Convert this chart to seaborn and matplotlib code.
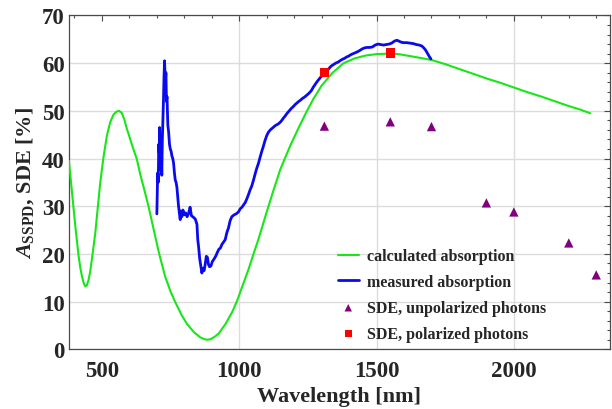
import numpy as np
import pandas as pd
import matplotlib
matplotlib.use("Agg")
import matplotlib.pyplot as plt
from matplotlib.ticker import MultipleLocator
import seaborn as sns

# Calculated absorption of the SSPD structure (wavelength in nm, absorption in %)
calc_wl = [380, 385, 390, 397, 405, 415, 421, 427, 433, 439, 445, 451, 457, 466, 476,
           485, 494, 505, 518, 530, 542, 552, 562, 572, 581, 591, 600, 610, 618, 627,
           640, 655, 670, 690, 709, 730, 750, 767, 790, 810, 835, 858, 870, 882, 895,
           910, 925, 950, 975, 991, 1010, 1034, 1052, 1070, 1100, 1125, 1150, 1185,
           1215, 1245, 1270, 1300, 1340, 1380, 1420, 1460, 1500, 1543, 1580, 1620, 1660,
           1698, 1750, 1800, 1850, 1900, 1950, 2000, 2050, 2100, 2150, 2200, 2240, 2278]
calc_abs = [39.5, 36.5, 33.5, 29.4, 24.8, 19.6, 17.2, 15.4, 14.0, 13.2, 13.4, 14.5, 16.2,
            20.0, 24.5, 29.8, 35.0, 40.0, 44.8, 47.6, 49.2, 49.8, 50.0, 49.6, 48.3, 46.2,
            44.6, 42.8, 41.4, 39.9, 36.6, 33.3, 29.9, 24.7, 19.9, 15.3, 12.1, 9.9, 7.2,
            5.3, 3.6, 2.5, 2.2, 2.0, 2.1, 2.6, 3.3, 5.3, 7.9, 10.0, 13.0, 16.8, 20.0,
            23.1, 28.8, 33.4, 37.8, 42.6, 46.3, 49.8, 52.5, 55.3, 58.0, 60.0, 61.0, 61.6,
            61.9, 62.0, 61.9, 61.5, 61.1, 60.7, 59.8, 58.8, 57.8, 56.8, 55.9, 54.9, 53.9,
            53.0, 52.0, 51.0, 50.3, 49.5]

# Measured absorption spectrum
meas_wl = [700, 701, 703, 705, 707, 709, 710, 712, 713, 715, 716, 718, 720, 722, 724,
           726, 728, 731, 733, 735, 737, 740, 743, 746, 749, 752, 755, 758, 761, 764,
           767, 770, 773, 776, 779, 782, 785, 787, 791, 795, 800, 805, 810, 815, 821,
           826, 833, 840, 846, 849, 852, 856, 860, 864, 868, 872, 876, 880, 884, 888,
           892, 897, 902, 909, 915, 920, 926, 931, 937, 943, 949, 955, 961, 967, 973,
           979, 985, 991, 997, 1004, 1010, 1016, 1022, 1028, 1034, 1040, 1046, 1052,
           1058, 1064, 1070, 1076, 1082, 1088, 1094, 1100, 1106, 1113, 1119, 1125, 1131,
           1137, 1143, 1149, 1155, 1161, 1167, 1173, 1179, 1185, 1191, 1197, 1203, 1209,
           1215, 1222, 1230, 1238, 1246, 1254, 1262, 1270, 1277, 1283, 1290, 1297, 1304,
           1311, 1319, 1327, 1335, 1343, 1351, 1359, 1367, 1375, 1383, 1391, 1399, 1407,
           1415, 1423, 1431, 1440, 1448, 1456, 1465, 1475, 1485, 1495, 1505, 1515, 1525,
           1535, 1545, 1555, 1562, 1568, 1575, 1582, 1590, 1598, 1610, 1622, 1634, 1645,
           1655, 1665, 1672, 1678, 1683, 1688, 1693, 1698]
meas_abs = [28.4, 31.0, 37.0, 35.0, 43.0, 41.0, 46.5, 40.0, 43.0, 37.5, 41.0, 36.5, 44.0,
            48.0, 52.0, 57.0, 60.5, 56.0, 58.0, 52.0, 53.0, 47.0, 45.5, 43.0, 42.0, 41.5,
            40.5, 40.0, 39.0, 37.0, 35.5, 35.0, 34.0, 32.0, 30.0, 28.5, 27.2, 29.0, 27.8,
            29.2, 28.2, 28.6, 27.8, 28.4, 29.8, 28.0, 27.7, 27.3, 26.2, 23.0, 21.5, 19.0,
            17.5, 16.0, 17.0, 16.5, 17.8, 19.5, 19.3, 17.8, 17.3, 17.5, 18.4, 19.0, 19.6,
            20.3, 21.0, 21.2, 22.0, 22.5, 23.0, 24.5, 25.5, 27.0, 27.8, 28.1, 28.3, 28.5,
            28.8, 29.5, 29.8, 30.3, 30.8, 31.6, 32.5, 33.5, 34.3, 35.5, 36.8, 38.0, 39.0,
            40.3, 41.5, 42.6, 43.8, 44.8, 45.5, 46.0, 46.3, 46.6, 46.9, 47.1, 47.3, 47.6,
            48.0, 48.5, 48.9, 49.4, 49.8, 50.2, 50.6, 50.9, 51.3, 51.6, 51.9, 52.2, 52.6,
            52.9, 53.3, 53.7, 54.2, 55.0, 55.6, 56.1, 56.6, 57.1, 57.5, 57.9, 58.4, 58.9,
            59.4, 59.7, 60.0, 60.2, 60.5, 60.8, 61.0, 61.3, 61.5, 61.8, 62.0, 62.2, 62.4,
            62.7, 63.0, 63.2, 63.3, 63.3, 63.4, 63.8, 64.0, 63.9, 63.8, 63.9, 64.0, 64.2,
            64.5, 64.7, 64.8, 64.6, 64.4, 64.3, 64.3, 64.2, 64.1, 63.9, 63.8, 63.6, 63.2,
            62.8, 62.3, 61.8, 61.3, 60.9]

# System detection efficiency, unpolarized and polarized photons
sde_unpol_wl = [1310, 1550, 1700, 1900, 2000, 2200, 2300]
sde_unpol = [46.8, 47.7, 46.7, 30.7, 28.8, 22.3, 15.6]
sde_pol_wl = [1310, 1550]
sde_pol = [58.1, 62.1]

labels = ["calculated absorption", "measured absorption",
          "SDE, unpolarized photons", "SDE, polarized photons"]

df_calc = pd.DataFrame({"wl": calc_wl, "val": calc_abs})
df_meas = pd.DataFrame({"wl": meas_wl, "val": meas_abs})
df_unpol = pd.DataFrame({"wl": sde_unpol_wl, "val": sde_unpol})
df_pol = pd.DataFrame({"wl": sde_pol_wl, "val": sde_pol})

sns.set_theme(style="white")
plt.rcParams["font.family"] = ["Liberation Serif", "DejaVu Serif"]
plt.rcParams["font.weight"] = "bold"
plt.rcParams["mathtext.fontset"] = "custom"
plt.rcParams["mathtext.rm"] = "Liberation Serif:bold"
plt.rcParams["mathtext.bf"] = "Liberation Serif:bold"
plt.rcParams["mathtext.it"] = "Liberation Serif:italic"

fig = plt.figure(figsize=(6.12, 4.10), dpi=100)
ax = fig.add_axes([0.1127, 0.1456, 0.8840, 0.8142])

sns.lineplot(data=df_calc, x="wl", y="val", color="#19e619", lw=1.5,
             estimator=None, sort=False, label=labels[0], ax=ax, zorder=3)
sns.lineplot(data=df_meas, x="wl", y="val", color="#0a0aee", lw=2.0,
             estimator=None, sort=False, label=labels[1], ax=ax, zorder=4)
sns.scatterplot(data=df_unpol, x="wl", y="val", marker="^", s=45, color="#800080",
                edgecolor="none", label=labels[2], ax=ax, zorder=5)
sns.scatterplot(data=df_pol, x="wl", y="val", marker="s", s=45, color="#ff0000",
                edgecolor="none", label=labels[3], ax=ax, zorder=6)

ax.set_xlim(380, 2350)
ax.set_ylim(0, 70)
ax.xaxis.set_major_locator(MultipleLocator(500))
ax.xaxis.set_minor_locator(MultipleLocator(100))
ax.yaxis.set_major_locator(MultipleLocator(10))
ax.yaxis.set_minor_locator(MultipleLocator(2))

ax.grid(True, which="major", color="#dcdcdc", lw=1.0)
ax.set_axisbelow(True)
fig.canvas.draw()
for tick, line in zip(ax.get_xticks(), ax.xaxis.get_gridlines()):
    if tick < 1000:
        line.set_visible(False)

for sp in ax.spines.values():
    sp.set_color("#4a4a4a")
    sp.set_linewidth(0.9)
ax.tick_params(which="both", direction="in", top=True, right=True,
               color="#4a4a4a", width=0.8)
ax.tick_params(which="major", length=4.5, labelsize=16.5)
ax.tick_params(which="minor", length=2.3)
ax.tick_params(axis="x", which="major", pad=8)
ax.tick_params(axis="y", which="major", pad=3)
for lab in ax.get_xticklabels() + ax.get_yticklabels():
    lab.set_fontweight("bold")

ax.set_xlabel("Wavelength [nm]", fontsize=16, fontweight="bold", labelpad=3)
ax.set_ylabel(r"$A_{\mathrm{SSPD}}$, SDE [%]", fontsize=16, fontweight="bold",
              labelpad=4)

ax.legend(loc="upper left", bbox_to_anchor=(0.497, 0.303), frameon=False,
          borderpad=0, borderaxespad=0, handlelength=1.3, handletextpad=0.55,
          labelspacing=0.62, markerscale=0.8,
          prop={"family": "Liberation Serif", "weight": "bold", "size": 11.5})

fig.savefig("out.png", dpi=100)
